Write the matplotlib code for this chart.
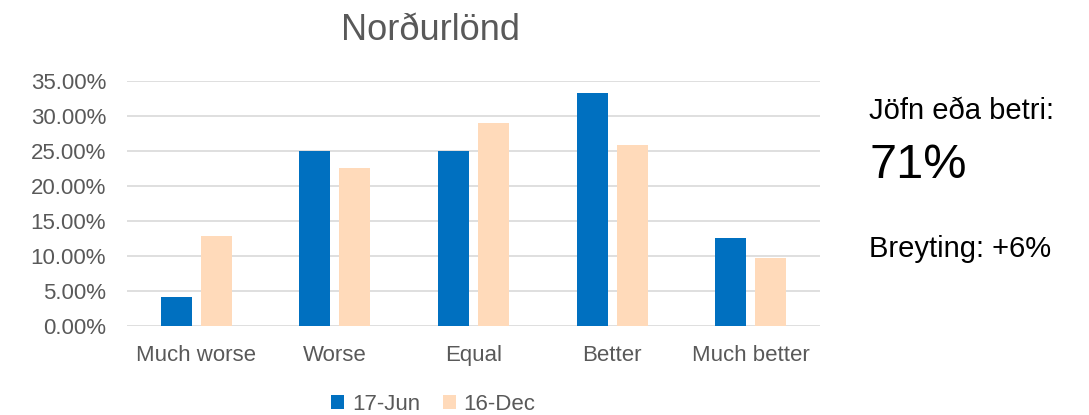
import numpy as np
import matplotlib.pyplot as plt
from matplotlib.ticker import PercentFormatter

categories = ['Much worse', 'Worse', 'Equal', 'Better', 'Much better']
jun17 = [4.17, 25.0, 25.0, 33.33, 12.5]
dec16 = [12.9, 22.58, 29.03, 25.81, 9.68]
series_names = ['17-Jun', '16-Dec']

plt.rcParams['font.family'] = ['Liberation Sans', 'DejaVu Sans']
grey = '#595959'

fig = plt.figure(figsize=(10.89, 4.15), dpi=100)
ax = fig.add_axes([0.1166, 0.2145, 0.6364, 0.5903])

x = np.arange(len(categories))
w = 0.224
ax.bar(x - 0.144, jun17, w, color='#0070C0', label=series_names[0], zorder=3)
ax.bar(x + 0.144, dec16, w, color='#FFDABA', label=series_names[1], zorder=3)

ax.set_xlim(-0.5, len(categories) - 0.5)
ax.set_ylim(0, 35)
ax.set_yticks(np.arange(0, 36, 5))
ax.yaxis.set_major_formatter(PercentFormatter(decimals=2))
ax.set_xticks(x)
ax.set_xticklabels(categories)
ax.grid(axis='y', color='#D9D9D9', linewidth=1.2, zorder=0)
for s in ['top', 'right', 'left', 'bottom']:
    ax.spines[s].set_visible(False)
ax.tick_params(axis='both', length=0, labelsize=16, colors=grey)
ax.tick_params(axis='y', pad=15)
ax.tick_params(axis='x', pad=14)

fig.text(0.395, 0.904, 'Norðurlönd', ha='center', va='baseline', fontsize=26, color=grey)

leg = fig.legend(loc='center', bbox_to_anchor=(0.398, 0.025), ncol=2, frameon=False,
                 fontsize=16, handlelength=0.6, handleheight=0.6, handletextpad=0.35,
                 columnspacing=1.0)
for t in leg.get_texts():
    t.set_color(grey)

fig.text(0.798, 0.713, 'Jöfn eða betri:', fontsize=21, color='black', va='baseline')
fig.text(0.798, 0.571, '71%', fontsize=35, color='black', va='baseline')
fig.text(0.798, 0.381, 'Breyting: +6%', fontsize=21, color='black', va='baseline')

fig.savefig('out.png', dpi=100)
